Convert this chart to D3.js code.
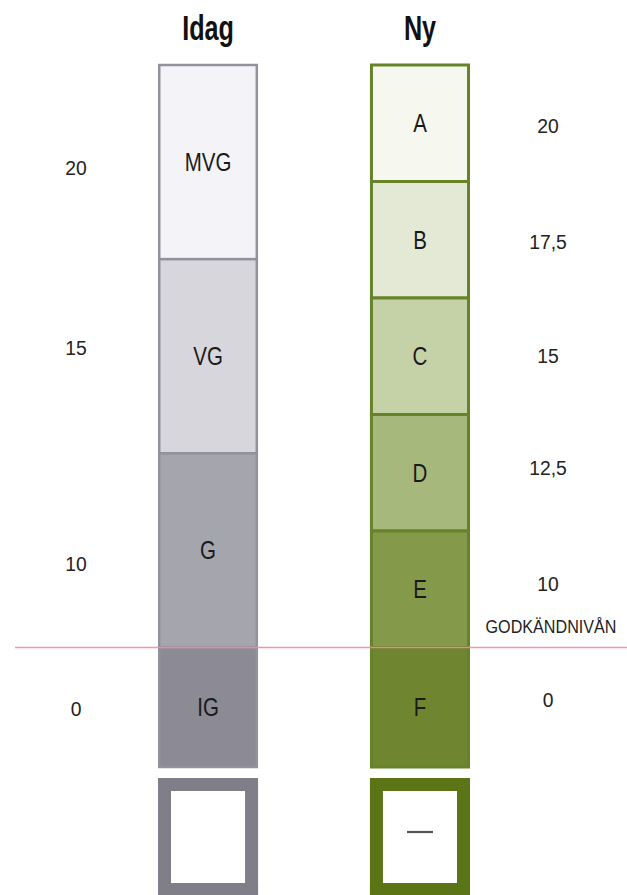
<!DOCTYPE html>
<html>
<head>
<meta charset="utf-8">
<script src="https://cdn.jsdelivr.net/npm/d3@7/dist/d3.min.js"></script>
<style>
  html, body { margin: 0; padding: 0; background: #ffffff; }
  svg { display: block; }
</style>
</head>
<body>
<script>
// ---- data ----
const columns = ["Idag", "Ny"];
const idagGrades = ["MVG", "VG", "G", "IG"];
const idagPoints = ["20", "15", "10", "0"];
const nyGrades = ["A", "B", "C", "D", "E", "F"];
const nyPoints = ["20", "17,5", "15", "12,5", "10", "0"];
const passLabel = "GODKÄNDNIVÅN";
const idagFills = ["#f4f4f8", "#d6d6dc", "#a5a5ad", "#8b8a95"];
const nyFills = ["#f6f8f0", "#e3e9d5", "#c5d2a7", "#a7b87d", "#85994b", "#6f852f"];

// ---- layout ----
const W = 627, H = 895;
const svg = d3.select("body").append("svg").attr("width", W).attr("height", H);

const x = d3.scaleBand().domain(columns).range([158, 470]).paddingInner(0.528);
const colW = x.bandwidth();

// passing grades share the span from top to the pass level; failing grade sits below
const passTop = 65, passLevel = 647.5, failBottom = 767;
const yIdag = d3.scaleBand().domain(idagGrades.slice(0, 3)).range([passTop, passLevel]);
const yNy = d3.scaleBand().domain(nyGrades.slice(0, 5)).range([passTop, passLevel]);

function rows(grades, yScale, fills) {
  return grades.map((g, i) => {
    if (i < grades.length - 1) {
      return { g, y0: yScale(g), y1: yScale(g) + yScale.bandwidth(), fill: fills[i] };
    }
    return { g, y0: passLevel, y1: failBottom, fill: fills[i] };
  });
}
const idagRows = rows(idagGrades, yIdag, idagFills);
const nyRows = rows(nyGrades, yNy, nyFills);

const sans = "'Liberation Sans', Arial, sans-serif";

// condensed text helper: horizontal squeeze around the anchor point
function ctext(sel, px, py, sx) {
  return sel.attr("transform", (d, i) => `translate(${px(d, i)},${py(d, i)}) scale(${sx},1)`)
    .attr("text-anchor", "middle")
    .style("font-family", sans);
}

// headers
ctext(svg.selectAll("text.head").data(columns).enter().append("text").attr("class", "head"),
  d => x(d) + colW / 2, () => 40, 0.72)
  .style("font-weight", "bold")
  .style("font-size", "35px")
  .style("fill", "#111")
  .text(d => d);

function drawColumn(col, data, stroke, sw) {
  const g = svg.append("g");
  g.selectAll("rect").data(data).enter().append("rect")
    .attr("x", x(col) + sw / 2)
    .attr("y", d => d.y0)
    .attr("width", colW - sw)
    .attr("height", d => d.y1 - d.y0)
    .attr("fill", d => d.fill)
    .attr("stroke", stroke)
    .attr("stroke-width", sw);
  ctext(g.selectAll("text").data(data).enter().append("text"),
    () => x(col) + colW / 2, d => (d.y0 + d.y1) / 2 + 9, 0.82)
    .style("font-size", "25px")
    .style("fill", "#1a1a1a")
    .text(d => d.g);
}
drawColumn("Idag", idagRows, "#92919c", 2.5);
drawColumn("Ny", nyRows, "#66832a", 3);

// point labels
const leftDy = [13, -1, 21, 9];
ctext(svg.selectAll("text.lp").data(idagRows).enter().append("text").attr("class", "lp"),
  () => 76, (d, i) => (d.y0 + d.y1) / 2 + leftDy[i], 0.92)
  .style("font-size", "21px")
  .style("fill", "#222")
  .text((d, i) => idagPoints[i]);

const rightDy = [10, 9, 7, 2, 2, 0];
ctext(svg.selectAll("text.rp").data(nyRows).enter().append("text").attr("class", "rp"),
  () => 548, (d, i) => (d.y0 + d.y1) / 2 + rightDy[i], 0.92)
  .style("font-size", "21px")
  .style("fill", "#222")
  .text((d, i) => nyPoints[i]);

ctext(svg.append("text"), () => 551, () => passLevel - 15, 0.85)
  .style("font-size", "19px")
  .style("fill", "#222")
  .text(passLabel);

// pass line
svg.append("line")
  .attr("x1", 15).attr("x2", W)
  .attr("y1", passLevel).attr("y2", passLevel)
  .attr("stroke", "#ec8fa2")
  .attr("stroke-width", 1.6)
  .attr("stroke-opacity", 0.9);

// bottom boxes
const boxTop = 778, boxBorder = 13;
const boxes = [{ col: "Idag", stroke: "#7f7e89" }, { col: "Ny", stroke: "#5b7516" }];
svg.selectAll("rect.box").data(boxes).enter().append("rect")
  .attr("class", "box")
  .attr("x", d => x(d.col) + boxBorder / 2)
  .attr("y", boxTop + boxBorder / 2)
  .attr("width", colW - boxBorder)
  .attr("height", H - boxTop + 10)
  .attr("fill", "#ffffff")
  .attr("stroke", d => d.stroke)
  .attr("stroke-width", boxBorder);
svg.selectAll("rect.boxb").data(boxes).enter().append("rect")
  .attr("class", "boxb")
  .attr("x", d => x(d.col))
  .attr("y", 883)
  .attr("width", colW)
  .attr("height", H - 883)
  .attr("fill", d => d.stroke);
svg.append("line")
  .attr("x1", x("Ny") + colW / 2 - 13).attr("x2", x("Ny") + colW / 2 + 13)
  .attr("y1", 832).attr("y2", 832)
  .attr("stroke", "#555")
  .attr("stroke-width", 2.2);
</script>
</body>
</html>
